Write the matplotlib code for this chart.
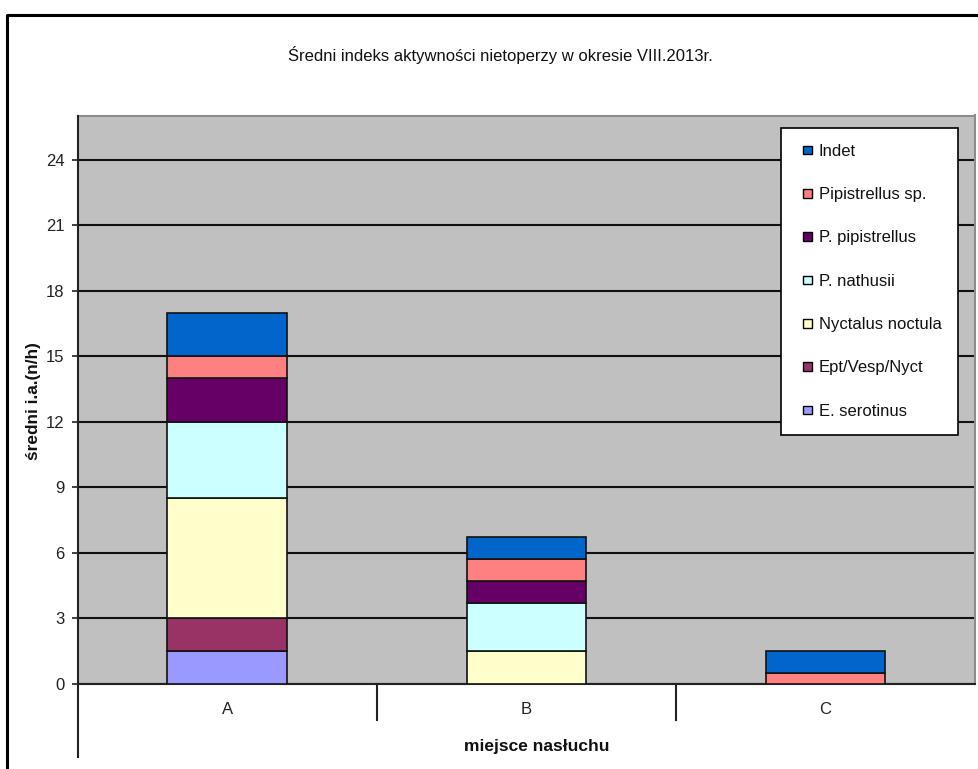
import matplotlib
matplotlib.use("Agg")
import matplotlib.pyplot as plt
from matplotlib.lines import Line2D
from matplotlib.patches import Patch, Rectangle
from matplotlib.legend_handler import HandlerPatch
import numpy as np

plt.rcParams['font.family'] = ['Liberation Sans', 'DejaVu Sans']

categories = ["A", "B", "C"]
series_names = ["E. serotinus", "Ept/Vesp/Nyct", "Nyctalus noctula", "P. nathusii",
                "P. pipistrellus", "Pipistrellus sp.", "Indet"]
e_serotinus = [1.5, 0.0, 0.0]
ept_vesp_nyct = [1.5, 0.0, 0.0]
nyctalus_noctula = [5.5, 1.5, 0.0]
p_nathusii = [3.5, 2.2, 0.0]
p_pipistrellus = [2.0, 1.0, 0.0]
pipistrellus_sp = [1.0, 1.0, 0.5]
indet = [2.0, 1.0, 1.0]
colors = ["#9999FF", "#993366", "#FFFFCC", "#CCFFFF", "#660066", "#FF8080", "#0066CC"]
yticks = [0, 3, 6, 9, 12, 15, 18, 21, 24]

title = "Średni indeks aktywności nietoperzy w okresie VIII.2013r."
xlabel = "miejsce nasłuchu"
ylabel = "średni i.a.(n/h)"

W, H = 979, 769
fig = plt.figure(figsize=(W / 100, H / 100), dpi=100)
fig.patch.set_facecolor("white")

left, right, top, bottom = 77.7, 975.0, 115.5, 683.5
ax = fig.add_axes([left / W, 1 - bottom / H, (right - left) / W, (bottom - top) / H])
ax.set_facecolor("#C0C0C0")

data = [e_serotinus, ept_vesp_nyct, nyctalus_noctula, p_nathusii,
        p_pipistrellus, pipistrellus_sp, indet]
x = np.arange(len(categories))
base = np.zeros(len(categories))
handles = []
for name, vals, c in zip(series_names, data, colors):
    vals = np.array(vals, dtype=float)
    mask = vals > 0
    ax.bar(x[mask], vals[mask], bottom=base[mask], width=0.4, color=c,
           edgecolor="#111111", linewidth=1.2, zorder=3)
    base += vals
    handles.append(Patch(facecolor=c, edgecolor="black", linewidth=1.0, label=name))

ax.set_xlim(-0.5, len(categories) - 0.5)
ax.set_ylim(0, 26.04)
ax.set_yticks(yticks)
ax.set_yticklabels([str(t) for t in yticks], fontsize=12, color="#222222")
ax.tick_params(axis="y", direction="out", length=4.5, width=1.2, color="#222222", pad=5)
ax.yaxis.grid(True, color="#111111", linewidth=1.5, zorder=1)
ax.set_axisbelow(True)
ax.set_xticks([])

for s in ["top", "right"]:
    ax.spines[s].set_color("#8c8c8c")
    ax.spines[s].set_linewidth(1.5)
ax.spines["left"].set_visible(False)
ax.spines["bottom"].set_color("#222222")
ax.spines["bottom"].set_linewidth(1.5)

# extended left axis line and category separators
trans = ax.transAxes
ax.add_line(Line2D([0, 0], [1, -(757 - bottom) / (bottom - top)], transform=trans,
                   color="#222222", linewidth=1.5, clip_on=False, zorder=5))
for b in [1 / 3, 2 / 3]:
    ax.add_line(Line2D([b, b], [0, -(720 - bottom) / (bottom - top)], transform=trans,
                       color="#222222", linewidth=1.5, clip_on=False, zorder=5))
for i, cat in enumerate(categories):
    ax.text(i, -(709 - bottom) / (bottom - top), cat, transform=ax.get_xaxis_transform(),
            ha="center", va="center", fontsize=12, color="#222222")

# titles
fig.text(500 / W, 1 - 55 / H, title, ha="center", va="center", fontsize=12, color="#111111")
fig.text(537 / W, 1 - 747 / H, xlabel, ha="center", va="center", fontsize=12.5,
         fontweight="bold", color="#111111")
fig.text(34 / W, 1 - 401 / H, ylabel, ha="center", va="center", fontsize=12.4,
         fontweight="bold", rotation=90, color="#111111")


# legend: small square marker placed at the right part of the handle box
def square_patch(legend, orig_handle, xdescent, ydescent, width, height, fontsize):
    s = 6.2  # points
    return Rectangle((-xdescent + width - s, -ydescent + (height - s) / 2), s, s)


leg = ax.legend(handles=handles[::-1], loc="upper left",
                bbox_to_anchor=(781 / W, 1 - 128 / H), bbox_transform=fig.transFigure,
                fontsize=12, frameon=True, fancybox=False, framealpha=1,
                edgecolor="black", facecolor="white", borderpad=0.95,
                labelspacing=1.7, handlelength=0.9, handleheight=0.55,
                handletextpad=0.42, borderaxespad=0,
                handler_map={Patch: HandlerPatch(patch_func=square_patch)})
leg.get_frame().set_linewidth(1.2)
for t in leg.get_texts():
    t.set_color("#111111")

# outer chart border (partially visible)
fig.add_artist(Line2D([7.5 / W, 7.5 / W, 1.0], [0, 1 - 15 / H, 1 - 15 / H],
                      transform=fig.transFigure, color="black", linewidth=2.2))

fig.savefig("out.png", dpi=100)
